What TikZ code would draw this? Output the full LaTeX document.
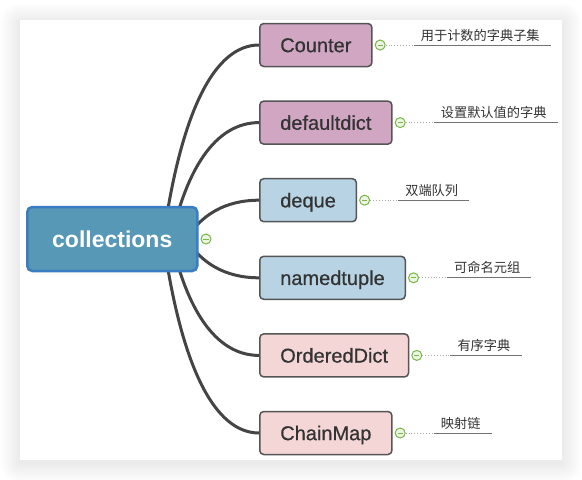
\documentclass[tikz,border=0pt]{standalone}
\usepackage{fontspec}
\setmainfont{Liberation Sans}
\newfontfamily\topicfont{Liberation Sans}[FakeBold=0.6]
\newfontfamily\cjk{Noto Sans CJK SC}
\usetikzlibrary{positioning}
\pgfdeclarelayer{panel}
\pgfdeclarelayer{back}
\pgfsetlayers{panel,back,main}
\definecolor{rootfill}{RGB}{86,152,181}
\definecolor{rootline}{RGB}{59,125,196}
\definecolor{purplefill}{RGB}{208,166,195}
\definecolor{bluefill}{RGB}{183,211,228}
\definecolor{pinkfill}{RGB}{245,214,214}
\definecolor{boxline}{RGB}{85,85,85}
\definecolor{branchcol}{RGB}{68,68,68}
\definecolor{foldgreen}{RGB}{122,182,72}
\definecolor{foldfill}{RGB}{236,245,226}
\definecolor{stemgray}{RGB}{115,115,115}
\definecolor{textdark}{RGB}{51,51,51}
\tikzset{
	root/.style={draw=rootline, line width=2.5pt, fill=rootfill, rounded corners=5pt, minimum width=170pt, minimum height=64pt, text=white, font=\fontsize{23}{27}\selectfont\bfseries, anchor=west},
	topic/.style={draw=boxline, line width=1.5pt, rounded corners=4pt, minimum height=43pt, inner xsep=20.5pt, text height=14.3pt, text depth=0pt, text=textdark, font=\topicfont\fontsize{20}{24}\selectfont, anchor=west},
	purpletopic/.style={topic, fill=purplefill},
	bluetopic/.style={topic, fill=bluefill},
	pinktopic/.style={topic, fill=pinkfill},
	fold/.style={circle, draw=foldgreen, fill=foldfill, line width=1pt, minimum size=10pt, inner sep=0pt, path picture={\draw[foldgreen, line width=1pt] ([xshift=-2.6pt]path picture bounding box.center) -- ([xshift=2.6pt]path picture bounding box.center);}},
	note/.style={font=\cjk\fontsize{13.2}{15}\selectfont, text=textdark, inner xsep=11pt, inner ysep=0pt, anchor=base west},
	stem/.style={draw=stemgray, line width=0.9pt},
	stemdot/.style={draw=stemgray!60, line width=0.9pt, dotted},
	branch/.style={draw=branchcol, line width=3pt, line cap=round}
}
\begin{document}
\begin{tikzpicture}[x=1pt,y=-1pt]
	\useasboundingbox (0,0) rectangle (582,480);
	\begin{pgfonlayer}{panel}
		\foreach \s in {1,...,20} \fill[black, opacity=0.0035, rounded corners=\s] (20-\s,23-\s) rectangle (562+\s,463+\s);
		\fill[white] (20,20) rectangle (562,460);
	\end{pgfonlayer}

	\node[root] (coll) at (26,239) {collections};
	\node[fold, right=2pt of coll] (k0) {};

	\node[purpletopic] (counter) at (259,45) {Counter};
	\node[purpletopic] (ddict) at (259,122.6) {defaultdict};
	\node[bluetopic] (deque) at (259,200.2) {deque};
	\node[bluetopic] (ntuple) at (259,277.8) {namedtuple};
	\node[pinktopic] (odict) at (259,355.4) {OrderedDict};
	\node[pinktopic] (cmap) at (259,433) {ChainMap};

	\node[fold, right=2pt of counter] (k1) {};
	\node[fold, right=2pt of ddict] (k2) {};
	\node[fold, right=2pt of deque] (k3) {};
	\node[fold, right=2pt of ntuple] (k4) {};
	\node[fold, right=2pt of odict] (k5) {};
	\node[fold, right=2pt of cmap] (k6) {};

	\node[note] (t1) at ([xshift=24pt,yshift=5pt]k1.east) {用于计数的字典子集};
	\node[note] (t2) at ([xshift=24pt,yshift=5pt]k2.east) {设置默认值的字典};
	\node[note] (t3) at ([xshift=24pt,yshift=5pt]k3.east) {双端队列};
	\node[note] (t4) at ([xshift=24pt,yshift=5pt]k4.east) {可命名元组};
	\node[note] (t5) at ([xshift=24pt,yshift=5pt]k5.east) {有序字典};
	\node[note] (t6) at ([xshift=24pt,yshift=5pt]k6.east) {映射链};

	% stems under the notes
	\foreach \i in {1,...,6} {
		\draw[stemdot] (k\i.east) -- ++(28,0) coordinate (s\i);
		\draw[stem] (s\i) -- (s\i -| t\i.east);
	}

	% branches from the root
	\begin{pgfonlayer}{back}
		\draw[branch] (coll.center) ++(51,0) .. controls +(18,-129) and +(-44,0) .. (counter.west);
		\draw[branch] (coll.center) ++(59,0) .. controls +(15,-69) and +(-44,0) .. (ddict.west);
		\draw[branch] (coll.center) ++(74,0) .. controls +(15,-24) and +(-34,0) .. (deque.west);
		\draw[branch] (coll.center) ++(74,0) .. controls +(15,24) and +(-34,0) .. (ntuple.west);
		\draw[branch] (coll.center) ++(59,0) .. controls +(15,69) and +(-44,0) .. (odict.west);
		\draw[branch] (coll.center) ++(51,0) .. controls +(18,129) and +(-44,0) .. (cmap.west);
	\end{pgfonlayer}
\end{tikzpicture}
\end{document}
